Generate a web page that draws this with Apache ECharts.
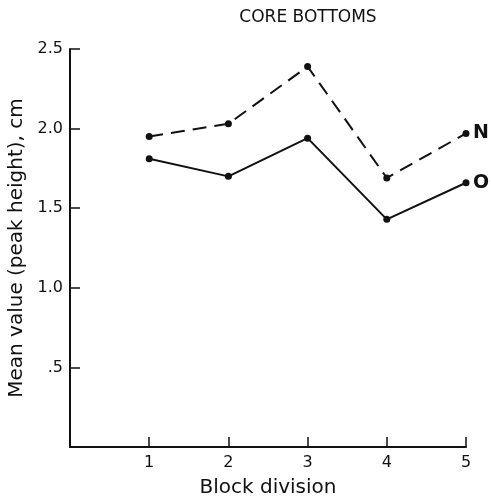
<!DOCTYPE html>
<html>
<head>
<meta charset="utf-8">
<script src="https://cdn.jsdelivr.net/npm/echarts@6/dist/echarts.min.js"></script>
<style>
  html, body { margin: 0; padding: 0; background: #fff; }
  #chart { width: 491px; height: 500px; }
</style>
</head>
<body>
<div id="chart"></div>
<script>
// block divisions on the x axis
const blocks = [1, 2, 3, 4, 5]
// mean peak height, cm
const valuesN = [1.95, 2.03, 2.39, 1.69, 1.97]
const valuesO = [1.81, 1.70, 1.94, 1.43, 1.66]
const yTickLabels = { 0.5: '.5', 1: '1.0', 1.5: '1.5', 2: '2.0', 2.5: '2.5' }

const font = 'DejaVu Sans'
const ink = '#111'

function pairs(vals) {
  return blocks.map((b, i) => [b, vals[i]])
}

function lineSeries(name, vals, dashed) {
  return {
    name: name,
    type: 'line',
    data: pairs(vals),
    symbol: 'circle',
    symbolSize: 7,
    itemStyle: { color: ink },
    lineStyle: {
      color: ink,
      width: 2,
      type: dashed ? [14, 8] : 'solid'
    },
    endLabel: {
      show: true,
      formatter: name,
      color: ink,
      fontFamily: font,
      fontSize: 19,
      fontWeight: 'bold',
      distance: 7
    },
    animation: false
  }
}

const chart = echarts.init(document.getElementById('chart'))
chart.setOption({
  title: {
    text: 'CORE BOTTOMS',
    left: 303,
    top: 4,
    textAlign: 'center',
    textStyle: { color: ink, fontFamily: font, fontSize: 17, fontWeight: 'normal' }
  },
  grid: { left: 70, right: 25, top: 49, bottom: 53, outerBoundsMode: 'none' },
  xAxis: {
    type: 'value',
    min: 0,
    max: 5,
    interval: 1,
    name: 'Block division',
    nameLocation: 'middle',
    nameGap: 31,
    nameTextStyle: { color: ink, fontFamily: font, fontSize: 20 },
    axisLine: { lineStyle: { color: ink, width: 2 } },
    axisTick: { inside: true, length: 10, lineStyle: { color: ink, width: 1.5 } },
    axisLabel: {
      color: ink, fontFamily: font, fontSize: 16, margin: 8,
      formatter: v => (v === 0 ? '' : String(v))
    },
    splitLine: { show: false }
  },
  yAxis: {
    type: 'value',
    min: 0,
    max: 2.5,
    interval: 0.5,
    name: 'Mean value (peak height), cm',
    nameLocation: 'middle',
    nameGap: 43,
    nameTextStyle: { color: ink, fontFamily: font, fontSize: 20 },
    axisLine: { show: true, lineStyle: { color: ink, width: 2 } },
    axisTick: { show: true, inside: true, length: 10, lineStyle: { color: ink, width: 1.5 } },
    axisLabel: {
      color: ink, fontFamily: font, fontSize: 16, margin: 7,
      formatter: v => yTickLabels[v] || ''
    },
    splitLine: { show: false }
  },
  series: [
    lineSeries('N', valuesN, true),
    lineSeries('O', valuesO, false)
  ]
})
</script>
</body>
</html>
